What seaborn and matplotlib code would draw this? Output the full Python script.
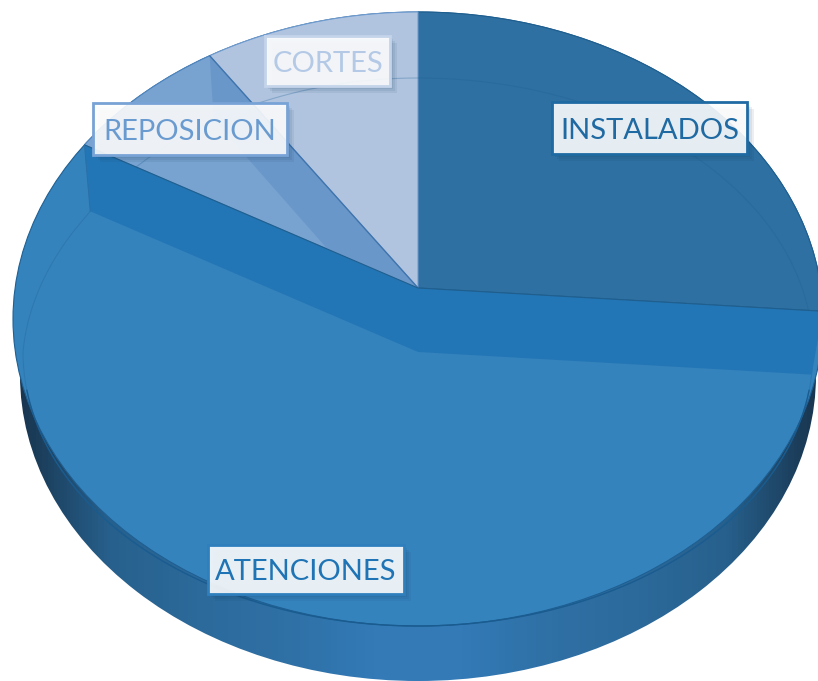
import numpy as np
import matplotlib
matplotlib.use("Agg")
import matplotlib.pyplot as plt
import matplotlib.patheffects as pe
from matplotlib.patches import Ellipse, Rectangle
import seaborn as sns

# Datos del grafico (porcentajes)
categorias = ["INSTALADOS", "ATENCIONES", "REPOSICION", "CORTES"]
valores = [24.6, 60.0, 6.8, 8.6]

colores = ["#2e70a1", "#3583bd", "#78a3d0", "#b0c4df"]
colores_texto = ["#1f6aa3", "#1f74b5", "#6a9bd0", "#b4c9e6"]
colores_borde = ["#1f6aa3", "#2f7fbd", "#78a3d6", "#c4d4ea"]
cajas = [(552, 102, 195, 52), (208, 545, 196, 49), (93, 103, 194, 52), (265, 36, 125, 50)]

sns.set_theme(style="white")
plt.rcParams["font.family"] = ["Lato", "DejaVu Sans"]

fig = plt.figure(figsize=(8.18, 6.81), dpi=100)
ax = fig.add_axes([0, 0, 1, 1])

# Geometria de la perspectiva, en pixeles
cx, cy, a, b = 418, 319, 405, 307   # contorno de la cara superior
vx, vy = 418, 288                   # vertice de las porciones de atras
salto = 64                          # altura de la pared interior
ix, iy, ia, ib = 418, 352, 395, 274 # elipse interior
ia_izq = 382                        # la elipse interior se angosta arriba a la izquierda


def punto(ang):
    return cx + a * np.cos(np.radians(ang)), cy - b * np.sin(np.radians(ang))


def porcion(ini, fin):
    t = np.radians(np.linspace(ini, fin, 120))
    xs = np.r_[vx, cx + a * np.cos(t)]
    ys = np.r_[vy, cy - b * np.sin(t)]
    return xs, ys


def sobre_interior(px, py, ancho):
    # lleva el borde de la porcion, bajado por la pared, hasta la elipse interior
    ddx, ddy = px - vx, py - vy
    s = 1 / np.hypot(ddx / ancho, ddy / ib)
    return ix + ddx * s, iy + ddy * s


def elipse_interior(grados):
    t = np.radians(grados)
    ancho = np.where((grados > 90) & (grados < 180),
                     ia_izq + (ia - ia_izq) * np.clip((grados - 150) / 30, 0, 1), ia)
    return ix + ancho * np.cos(t), iy - ib * np.sin(t)


# Angulos de cada porcion, sentido horario desde arriba
limites = 90 - np.cumsum([0] + valores) * 3.6

# Pared exterior con degradado
cmap = sns.blend_palette(["#193650", "#27608c", "#2c6a9b", "#2f70a5", "#337ab7", "#337ab7",
                          "#2f70a5", "#2c6a9b", "#27608c", "#193650"], n_colors=256, as_cmap=True)
pared = Ellipse((418, 375), 2 * 398, 2 * 306, transform=ax.transData, fc="none", ec="none")
ax.add_patch(pared)
img = ax.imshow(np.linspace(0, 1, 256)[None, :], cmap=cmap, extent=(20, 816, 690, 60), aspect="auto")
img.set_clip_path(pared)

# Cara superior
ax.add_patch(Ellipse((cx, cy), 2 * a, 2 * b, fc=colores[1], ec="#1f6093", lw=0.8))

# Porciones de atras
for i in [0, 2, 3]:
    xs, ys = porcion(limites[i], limites[i + 1])
    borde = {0: "#1f5f8f", 2: "#4f86c0", 3: "#6f9bd0"}[i]
    ax.fill(xs, ys, fc=colores[i], ec=borde, lw=0.8, zorder=2)

# Elipse interior, tenue en la parte de atras
xs, ys = elipse_interior(np.linspace(0, 360, 720))
ax.plot(xs, ys, color="#1f6093", lw=0.8, alpha=0.3, zorder=3)

# Pared interior de CORTES, visible sobre REPOSICION
ex, ey = punto(limites[3])
ax.fill([ex, ex + 4, vx, vx], [ey, ey + salto, vy + salto, vy], fc="#6a97c9", ec="none", zorder=3)
ax.plot([ex, vx], [ey, vy], color="#3f74ad", lw=1.0, zorder=4)

# Banda oscura de ATENCIONES
dx, dy = punto(limites[1])
izx, izy = punto(limites[2])
dx2, dy2 = sobre_interior(dx, dy, ia)
izx2, izy2 = sobre_interior(izx, izy, ia_izq)
ax.fill([vx, dx, dx2, ix, izx2, izx], [vy, dy, dy2, iy, izy2, izy],
        fc="#2376b5", ec="none", zorder=5)
ax.plot([izx, vx, dx], [izy, vy, dy], color="#1f5f8f", lw=0.8, zorder=6)
ax.plot([izx, izx2], [izy, izy2], color="#2a6fa8", lw=0.7, zorder=6)

# Elipse interior, marcada en la parte de adelante
xs, ys = elipse_interior(np.linspace(352, 188, 300))
ax.plot(xs, ys, color="#1a5c90", lw=1.0, zorder=6)

# Etiquetas
sombra = [pe.SimplePatchShadow(offset=(o, -o), shadow_rgbFace="#123a5c", alpha=0.08) for o in (5, 3.5, 2)]
for nombre, caja, tc, bc in zip(categorias, cajas, colores_texto, colores_borde):
    x0, y0, w, h = caja
    r = Rectangle((x0, y0), w, h, fc=(1, 1, 1, 0.89), ec=bc, lw=2.0, zorder=8)
    r.set_path_effects(sombra + [pe.Normal()])
    ax.add_patch(r)
    ax.text(x0 + w / 2, y0 + h / 2 + 3, nombre, color=tc, fontsize=21, ha="center", va="center", zorder=9)

ax.set_xlim(0, 818)
ax.set_ylim(681, 0)
ax.axis("off")
fig.savefig("out.png", dpi=100)
